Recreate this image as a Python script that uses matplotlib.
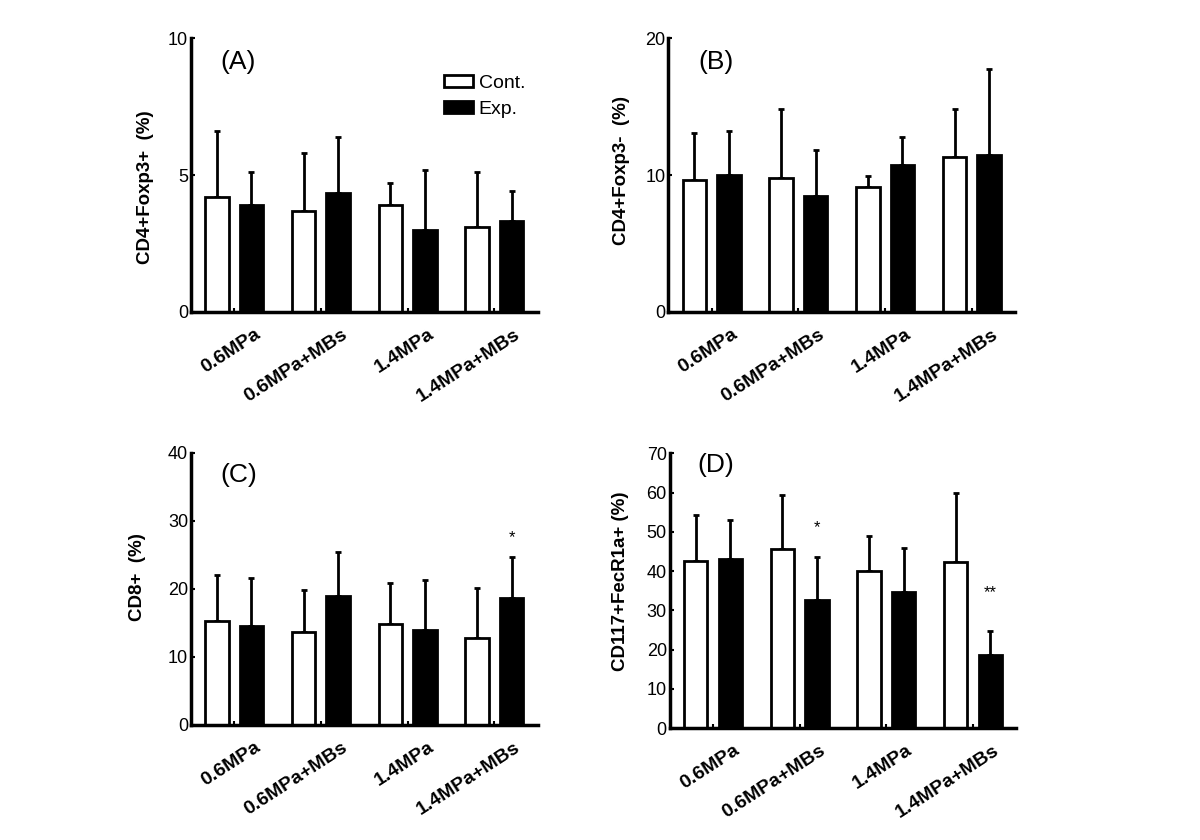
import numpy as np
import matplotlib
matplotlib.use("Agg")
import matplotlib.pyplot as plt
from matplotlib.patches import Patch

plt.rcParams['font.family'] = ['Liberation Sans', 'DejaVu Sans']

# Groups on the x axis
groups = ['0.6MPa', '0.6MPa+MBs', '1.4MPa', '1.4MPa+MBs']

# (A) CD4+Foxp3+
a_cont = [4.2, 3.7, 3.9, 3.1]
a_cont_sd = [2.4, 2.1, 0.8, 2.0]
a_exp = [3.9, 4.35, 3.0, 3.33]
a_exp_sd = [1.2, 2.05, 2.2, 1.07]

# (B) CD4+Foxp3-
b_cont = [9.65, 9.75, 9.1, 11.3]
b_cont_sd = [3.45, 5.05, 0.8, 3.5]
b_exp = [10.0, 8.45, 10.7, 11.5]
b_exp_sd = [3.25, 3.4, 2.1, 6.25]

# (C) CD8+
c_cont = [15.2, 13.6, 14.8, 12.8]
c_cont_sd = [6.8, 6.3, 6.0, 7.3]
c_exp = [14.6, 18.9, 13.9, 18.6]
c_exp_sd = [7.0, 6.5, 7.45, 6.1]

# (D) CD117+FecR1a+
d_cont = [42.6, 45.5, 40.1, 42.2]
d_cont_sd = [11.7, 13.9, 8.8, 17.7]
d_exp = [43.0, 32.6, 34.6, 18.7]
d_exp_sd = [10.0, 11.1, 11.4, 6.1]


def draw_panel(ax, cont, cont_sd, exp, exp_sd, ymax, yticks, ylabel, label_xy,
               tag, tag_xy, stars=None):
    """Grouped bar panel with one-sided error bars."""
    x = np.arange(len(groups))
    w = 0.27
    off = 0.2
    ax.bar(x - off, cont, w, color='white', edgecolor='black', linewidth=2, zorder=2)
    ax.bar(x + off, exp, w, color='black', edgecolor='black', linewidth=2, zorder=2)
    zeros = np.zeros(len(groups))
    ax.errorbar(x - off, cont, yerr=[zeros, cont_sd], fmt='none', ecolor='black',
                elinewidth=2, capsize=2, capthick=2, zorder=1)
    ax.errorbar(x + off, exp, yerr=[zeros, exp_sd], fmt='none', ecolor='black',
                elinewidth=2, capsize=2, capthick=2, zorder=1)

    ax.set_xlim(-0.5, 3.5)
    ax.set_ylim(0, ymax)
    ax.set_yticks(yticks)
    # tick marks sit at the group centres, the slanted labels a bit to the right
    ax.set_xticks(x)
    ax.set_xticklabels([])
    ax.set_xticks(x + 0.23, minor=True)
    ax.set_xticklabels(groups, minor=True, rotation=33, ha='right',
                       rotation_mode='anchor', fontweight='black', fontsize=14)
    ax.tick_params(axis='y', direction='in', length=3, width=1.5, labelsize=13, pad=2)
    ax.tick_params(axis='x', which='major', direction='in', length=3, width=1.5)
    ax.tick_params(axis='x', which='minor', length=0, pad=10)
    for s in ['top', 'right']:
        ax.spines[s].set_visible(False)
    for s in ['left', 'bottom']:
        ax.spines[s].set_linewidth(2.5)
    ax.set_ylabel(ylabel, fontweight='bold', fontsize=13.5)
    ax.yaxis.set_label_coords(*label_xy)
    ax.text(tag_xy[0], tag_xy[1], tag, transform=ax.transAxes, fontsize=19,
            ha='left', va='center')
    if stars:
        for gi, yv, s in stars:
            ax.text(gi + off, yv, s, ha='center', va='center', fontsize=12)


fig = plt.figure(figsize=(12, 8.4), dpi=100)
ax_a = fig.add_axes([0.159, 0.6286, 0.289, 0.326])
ax_b = fig.add_axes([0.557, 0.6286, 0.289, 0.326])
ax_c = fig.add_axes([0.159, 0.137, 0.289, 0.324])
ax_d = fig.add_axes([0.558, 0.1333, 0.289, 0.327])

draw_panel(ax_a, a_cont, a_cont_sd, a_exp, a_exp_sd, 10, [0, 5, 10],
           'CD4+Foxp3+  (%)', (-0.107, 0.456), '(A)', (0.084, 0.912))
draw_panel(ax_b, b_cont, b_cont_sd, b_exp, b_exp_sd, 20, [0, 10, 20],
           'CD4+Foxp3-  (%)', (-0.112, 0.518), '(B)', (0.086, 0.912))
draw_panel(ax_c, c_cont, c_cont_sd, c_exp, c_exp_sd, 40, [0, 10, 20, 30, 40],
           'CD8+  (%)', (-0.130, 0.544), '(C)', (0.084, 0.919),
           stars=[(3, 27.6, '*')])
draw_panel(ax_d, d_cont, d_cont_sd, d_exp, d_exp_sd, 70, list(range(0, 71, 10)),
           'CD117+FecR1a+ (%)', (-0.118, 0.535), '(D)', (0.081, 0.956),
           stars=[(1, 51.0, '*'), (3, 34.5, '**')])

# Legend only on panel A
handles = [Patch(facecolor='white', edgecolor='black', linewidth=2, label='Cont.'),
           Patch(facecolor='black', edgecolor='black', linewidth=2, label='Exp.')]
ax_a.legend(handles=handles, loc='upper left', bbox_to_anchor=(0.707, 0.893),
            frameon=False, fontsize=14, handlelength=1.5, handleheight=0.55,
            handletextpad=0.3, labelspacing=0.45, borderaxespad=0)

fig.savefig('out.png', dpi=100)
